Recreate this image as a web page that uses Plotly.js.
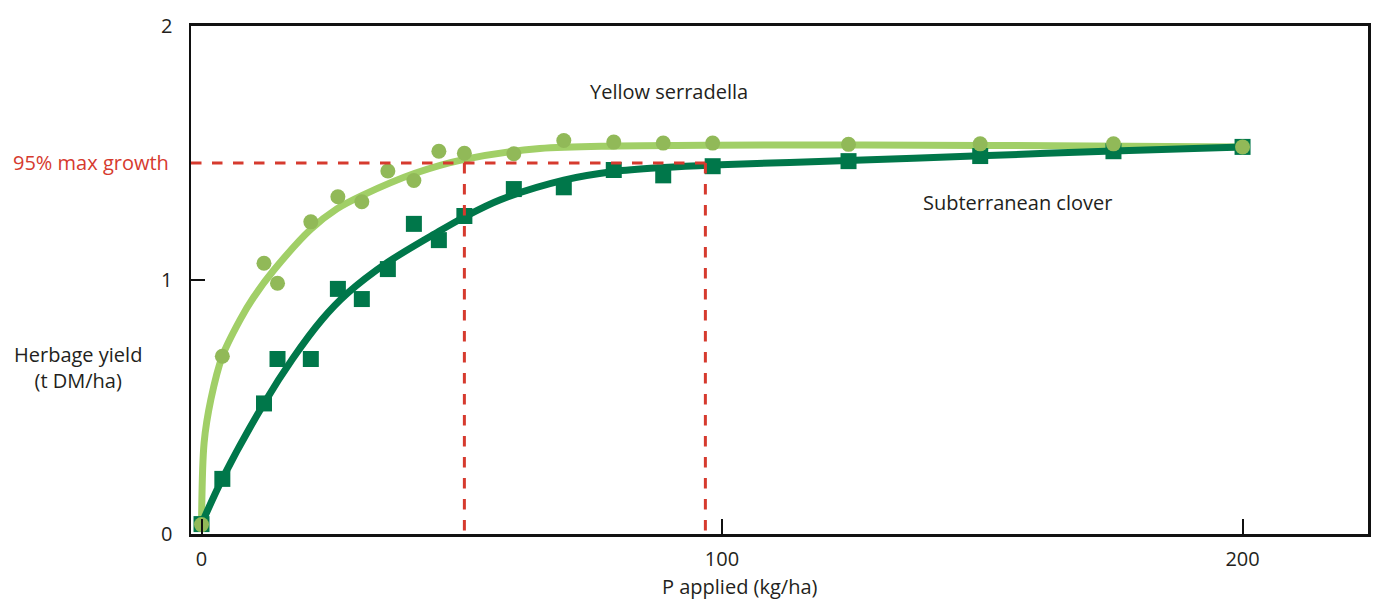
<!DOCTYPE html>
<html>
<head>
<meta charset="utf-8">
<script src="https://cdn.plot.ly/plotly-3.0.1.min.js"></script>
<style>html,body{margin:0;padding:0;background:#fff;}#chart{width:1373px;height:603px;}</style>
</head>
<body>
<div id="chart"></div>
<script>
// Observed data (P applied kg/ha -> herbage yield t DM/ha)
const serradellaP = [0, 4, 12, 14.6, 21, 26.2, 30.8, 35.8, 40.8, 45.6, 50.5, 60, 69.6, 79.2, 88.7, 98.2, 124.3, 149.6, 175.2, 200];
const serradellaY = [0.037, 0.70, 1.066, 0.987, 1.229, 1.328, 1.308, 1.429, 1.392, 1.507, 1.499, 1.497, 1.549, 1.543, 1.539, 1.539, 1.534, 1.536, 1.536, 1.524];
const cloverP = [0, 4, 12, 14.6, 21, 26.2, 30.8, 35.8, 40.8, 45.6, 50.5, 60, 69.6, 79.2, 88.7, 98.2, 124.3, 149.6, 175.2, 200];
const cloverY = [0.039, 0.217, 0.514, 0.689, 0.689, 0.965, 0.925, 1.043, 1.221, 1.157, 1.252, 1.358, 1.365, 1.433, 1.412, 1.448, 1.468, 1.488, 1.507, 1.524];

// Fitted response curves
const serradellaFitP = [0, 0.5, 1.8, 4, 7.4, 9.95, 13.9, 21, 26, 31, 41, 50.5, 65, 80, 98, 150, 200];
const serradellaFitY = [0.03, 0.36, 0.53, 0.70, 0.843, 0.93, 1.039, 1.20, 1.28, 1.334, 1.42, 1.475, 1.518, 1.528, 1.531, 1.53, 1.524];
const cloverFitP = [0, 4, 12, 17.5, 23.1, 27.9, 35.8, 45.5, 50.6, 57.3, 69.6, 79.2, 88.7, 98.3, 124.2, 149.6, 175.1, 200];
const cloverFitY = [0.039, 0.217, 0.514, 0.69, 0.843, 0.945, 1.07, 1.19, 1.249, 1.315, 1.393, 1.427, 1.443, 1.453, 1.470, 1.489, 1.508, 1.524];

// 95% of maximum growth and P rates where it is reached
const maxGrowth95 = 1.461;
const pSerradella95 = 50.5;
const pClover95 = 96.8;

const xTicks = [0, 100, 200];
const yTicks = [0, 1, 2];

const FONT = '"Open Sans", Lato, sans-serif';
const FS = 20;
const TXT = '#231f20';
const RED = '#d63a2e';
const LIGHT = '#a1cf67';
const LIGHT_PT = '#91b958';
const DARK = '#00774a';

const traces = [
  {x: serradellaFitP, y: serradellaFitY, mode: 'lines', line: {color: LIGHT, width: 7, shape: 'spline', smoothing: 0.9}, hoverinfo: 'skip'},
  {x: cloverFitP, y: cloverFitY, mode: 'lines', line: {color: DARK, width: 7, shape: 'spline', smoothing: 0.9}, hoverinfo: 'skip'},
  {x: cloverP, y: cloverY, mode: 'markers', marker: {symbol: 'square', size: 16, color: DARK}, cliponaxis: false},
  {x: serradellaP, y: serradellaY, mode: 'markers', marker: {symbol: 'circle', size: 15, color: LIGHT_PT}, cliponaxis: false}
];

const dash = '10.5px,10.5px';
const layout = {
  width: 1373, height: 603,
  margin: {l: 191, r: 5, t: 26, b: 69},
  paper_bgcolor: '#fff', plot_bgcolor: '#fff',
  showlegend: false,
  font: {family: FONT, size: FS, color: TXT},
  xaxis: {
    range: [-2.02, 224.1], tickvals: xTicks, ticktext: xTicks.map(String),
    ticks: 'inside', ticklen: 15, tickwidth: 2, tickcolor: '#111',
    showline: true, linecolor: '#111', linewidth: 3, mirror: true,
    showgrid: false, zeroline: false, ticklabelstandoff: 5,
    tickfont: {family: FONT, size: FS, color: TXT}
  },
  yaxis: {
    range: [0, 2], tickvals: yTicks, ticktext: yTicks.map(String),
    ticks: 'inside', ticklen: 14, tickwidth: 2, tickcolor: '#111',
    showline: true, linecolor: '#111', linewidth: 2.5, mirror: true,
    showgrid: false, zeroline: false, ticklabelstandoff: 12,
    tickfont: {family: FONT, size: FS, color: TXT}
  },
  shapes: [
    {type: 'line', layer: 'above', xref: 'x', yref: 'y', x0: -2.02, x1: pClover95, y0: maxGrowth95, y1: maxGrowth95,
     line: {color: RED, width: 3, dash: dash}},
    {type: 'line', layer: 'above', xref: 'x', yref: 'y', x0: pSerradella95, x1: pSerradella95, y0: maxGrowth95, y1: 0,
     line: {color: RED, width: 3, dash: dash}},
    {type: 'line', layer: 'above', xref: 'x', yref: 'y', x0: pClover95, x1: pClover95, y0: maxGrowth95, y1: 0,
     line: {color: RED, width: 3, dash: dash}}
  ],
  annotations: [
    {text: 'Herbage yield<br>(t DM/ha)', xref: 'paper', yref: 'paper', x: -0.096, y: 0.327,
     xanchor: 'center', yanchor: 'middle', showarrow: false, align: 'center',
     font: {family: FONT, size: FS, color: TXT}},
    {text: '95% max growth', xref: 'paper', yref: 'y', x: -0.017, y: maxGrowth95,
     xanchor: 'right', yanchor: 'middle', showarrow: false,
     font: {family: FONT, size: FS, color: RED}},
    {text: 'P applied (kg/ha)', xref: 'paper', yref: 'paper', x: 0.4664, y: -0.103,
     xanchor: 'center', yanchor: 'middle', showarrow: false, borderpad: 0,
     font: {family: FONT, size: FS, color: TXT}},
    {text: 'Yellow serradella', xref: 'paper', yref: 'paper', x: 0.4065, y: 0.8707,
     xanchor: 'center', yanchor: 'middle', showarrow: false,
     font: {family: FONT, size: FS, color: TXT}},
    {text: 'Subterranean clover', xref: 'paper', yref: 'paper', x: 0.7018, y: 0.6516,
     xanchor: 'center', yanchor: 'middle', showarrow: false,
     font: {family: FONT, size: FS, color: TXT}}
  ]
};

Plotly.newPlot('chart', traces, layout, {staticPlot: true, displayModeBar: false});
</script>
</body>
</html>
